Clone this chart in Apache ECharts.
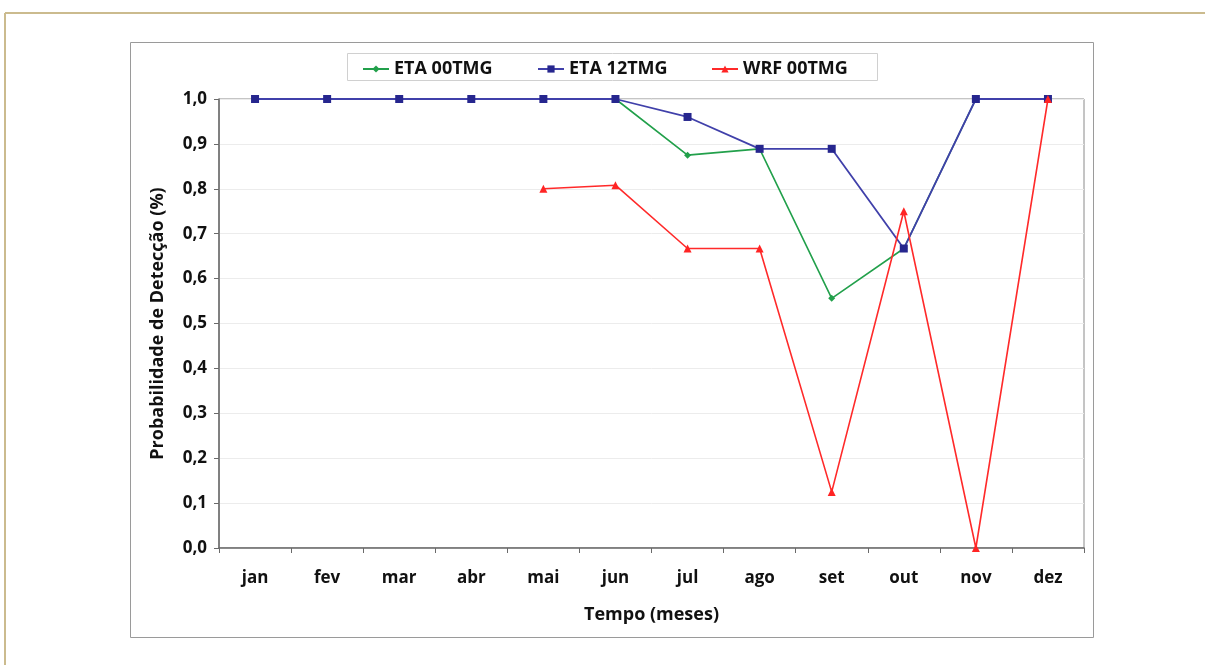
<!DOCTYPE html>
<html><head><meta charset="utf-8">
<script src="https://cdn.jsdelivr.net/npm/echarts@6/dist/echarts.min.js"></script>
<style>html,body{margin:0;padding:0;background:#fff}#c{width:1205px;height:665px}</style>
</head><body><div id="c"></div>
<script>
var categories = ['jan','fev','mar','abr','mai','jun','jul','ago','set','out','nov','dez'];
var eta00 = [1.0,1.0,1.0,1.0,1.0,1.0,0.875,0.889,0.556,0.667,1.0,1.0];
var eta12 = [1.0,1.0,1.0,1.0,1.0,1.0,0.96,0.889,0.889,0.667,1.0,1.0];
var wrf00 = [null,null,null,null,0.8,0.808,0.667,0.667,0.125,0.75,0.0,1.0];
var seriesNames = ['ETA 00TMG','ETA 12TMG','WRF 00TMG'];

var FONT = 'Open Sans';
var legendLefts = [357, 532, 706];
function mkLegend(i){
  return {
    top:55, left:legendLefts[i], itemGap:0, itemWidth:26, itemHeight:9,
    data:[seriesNames[i]],
    textStyle:{fontFamily:FONT,fontWeight:'bold',fontSize:18,color:'#111',padding:[0,0,0,0]}
  };
}
var chart = echarts.init(document.getElementById('c'), null, {renderer:'canvas'});
chart.setOption({
  animation:false,
  backgroundColor:'#fff',
  graphic:[
    {type:'line', shape:{x1:5,y1:13,x2:1205,y2:13}, style:{stroke:'#cbbb8e',lineWidth:2}},
    {type:'line', shape:{x1:5,y1:13,x2:5,y2:665}, style:{stroke:'#cbbb8e',lineWidth:2}},
    {type:'rect', shape:{x:130.5,y:42.5,width:963,height:595}, style:{fill:'none',stroke:'#9a9a9a',lineWidth:1}, z:-1},
    {type:'rect', shape:{x:347.5,y:53.5,width:530,height:27}, style:{fill:'#fff',stroke:'#d0d0d0',lineWidth:1}, z:-1}
  ],
  legend:[mkLegend(0),mkLegend(1),mkLegend(2)],
  grid:{left:219,right:121,top:99,bottom:117,show:true,borderColor:'#8a8a8a',borderWidth:1,backgroundColor:'transparent'},
  xAxis:{
    type:'category', data:categories, boundaryGap:true,
    name:'Tempo (meses)', nameLocation:'middle', nameGap:58,
    nameTextStyle:{fontFamily:FONT,fontWeight:'bold',fontSize:18,color:'#111'},
    axisLine:{lineStyle:{color:'#6a6a6a',width:1.5}},
    axisTick:{show:true,inside:false,length:5,alignWithLabel:false,lineStyle:{color:'#6a6a6a'}},
    axisLabel:{fontFamily:FONT,fontWeight:'bold',fontSize:17,color:'#111',margin:22},
    splitLine:{show:false}
  },
  yAxis:{
    type:'value', min:0, max:1, interval:0.1,
    name:'Probabilidade de Detecção (%)', nameLocation:'middle', nameGap:52,
    nameTextStyle:{fontFamily:FONT,fontWeight:'bold',fontSize:18,color:'#111'},
    axisLine:{show:true,lineStyle:{color:'#6a6a6a',width:1.5}},
    axisTick:{show:true,inside:false,length:5,lineStyle:{color:'#6a6a6a'}},
    axisLabel:{fontFamily:FONT,fontWeight:'bold',fontSize:17,color:'#111',margin:12,
      formatter:function(v){return v.toFixed(1).replace('.',',');}},
    splitLine:{show:true,lineStyle:{color:'#ececec',width:1}}
  },
  series:[
    {name:seriesNames[0],type:'line',data:eta00,symbol:'diamond',symbolSize:7,
     itemStyle:{color:'#22a04b'},lineStyle:{color:'#22a04b',width:1.6},z:2},
    {name:seriesNames[1],type:'line',data:eta12,symbol:'rect',symbolSize:8,
     itemStyle:{color:'#26268e'},lineStyle:{color:'#4040aa',width:1.8},z:3},
    {name:seriesNames[2],type:'line',data:wrf00,symbol:'triangle',symbolSize:8,connectNulls:false,
     itemStyle:{color:'#ff2424'},lineStyle:{color:'#ff2a2a',width:1.6},z:4}
  ]
});
</script></body></html>
